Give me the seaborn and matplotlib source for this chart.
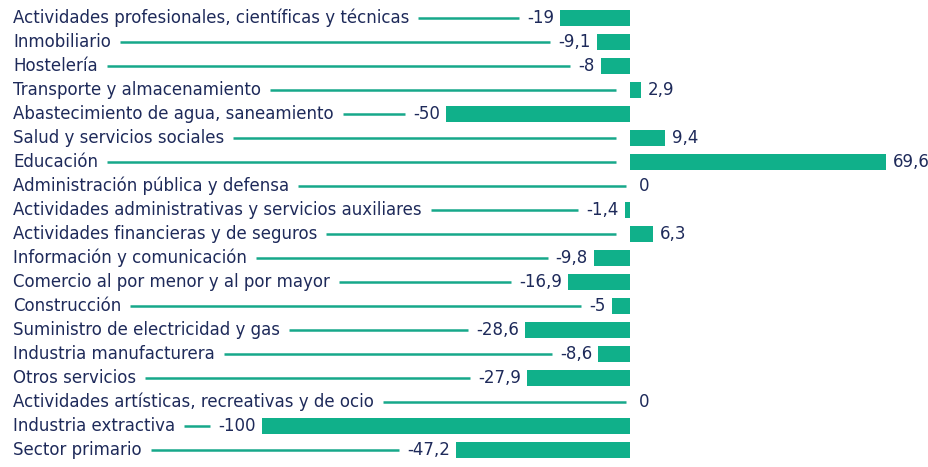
import pandas as pd
import matplotlib
matplotlib.use("Agg")
import matplotlib.pyplot as plt
import seaborn as sns

# datos
sectores = [
    "Actividades profesionales, científicas y técnicas",
    "Inmobiliario",
    "Hostelería",
    "Transporte y almacenamiento",
    "Abastecimiento de agua, saneamiento",
    "Salud y servicios sociales",
    "Educación",
    "Administración pública y defensa",
    "Actividades administrativas y servicios auxiliares",
    "Actividades financieras y de seguros",
    "Información y comunicación",
    "Comercio al por menor y al por mayor",
    "Construcción",
    "Suministro de electricidad y gas",
    "Industria manufacturera",
    "Otros servicios",
    "Actividades artísticas, recreativas y de ocio",
    "Industria extractiva",
    "Sector primario",
]
variacion = [-19, -9.1, -8, 2.9, -50, 9.4, 69.6, 0, -1.4, 6.3,
             -9.8, -16.9, -5, -28.6, -8.6, -27.9, 0, -100, -47.2]

df = pd.DataFrame({"sector": sectores, "valor": variacion})

BAR = "#10b08a"
LINE = "#17a88a"
TXT = "#1e2a5a"

sns.set_theme(style="white")
plt.rcParams["font.family"] = ["DejaVu Sans"]

W, H = 929, 467
fig = plt.figure(figsize=(W / 100, H / 100), dpi=100)
ax = fig.add_axes([0, 0, 1, 1])

sns.barplot(data=df, x="valor", y="sector", orient="h", color=BAR,
            saturation=1, width=0.64, linewidth=0, ax=ax)

# escala en pixeles: cero en x=630, 3.68 px por unidad
x0, s = 630, 3.68
ax.set_xlim(-x0 / s, (W - x0) / s)
ax.set_ylim((H - 18) / 24, -18 / 24)
ax.axis("off")

def px2x(px):
    return (px - x0) / s

fig.canvas.draw()
r = fig.canvas.get_renderer()
fs = 12

def fmt(v):
    return f"{v:g}".replace(".", ",")

for i, (name, v) in enumerate(zip(sectores, variacion)):
    t = ax.text(px2x(13), i, name, ha="left", va="center", fontsize=fs, color=TXT)
    end_px = t.get_window_extent(r).x1
    if v < 0:
        lab = ax.text(v - 6 / s, i, fmt(v), ha="right", va="center", fontsize=fs, color=TXT)
        stop_px = lab.get_window_extent(r).x0 - 8
    elif v > 0:
        ax.text(v + 7 / s, i, fmt(v), ha="left", va="center", fontsize=fs, color=TXT)
        stop_px = x0 - 14
    else:
        ax.text(px2x(x0 + 9), i, fmt(v), ha="left", va="center", fontsize=fs, color=TXT)
        stop_px = x0 - 4
    ax.plot([px2x(end_px + 9), px2x(stop_px)], [i, i], color=LINE, lw=1.8,
            solid_capstyle="butt")

fig.savefig("out.png", dpi=100, facecolor="white")
